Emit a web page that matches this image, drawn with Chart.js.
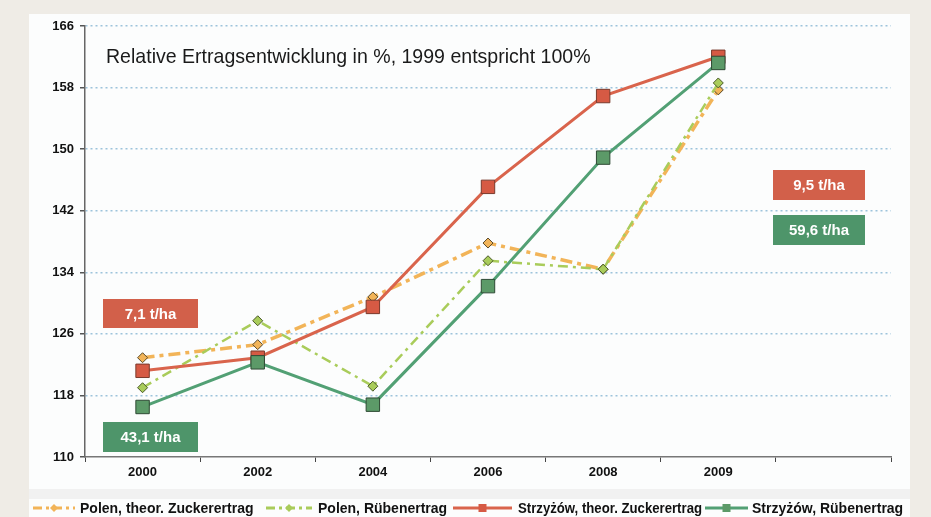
<!doctype html>
<html lang="de">
<head>
<meta charset="utf-8">
<title>Relative Ertragsentwicklung</title>
<script src="https://cdn.jsdelivr.net/npm/chart.js"></script>
<style>
  html, body { margin: 0; padding: 0; background: #efece6; }
  #wrap { width: 931px; height: 517px; position: relative; }
</style>
</head>
<body>
<div id="wrap"><canvas id="chart"></canvas></div>
<script>
const years = ['2000', '2002', '2004', '2006', '2008', '2009', '']
const polenZucker = [122.9, 124.6, 130.8, 137.8, 134.4, 157.7]
const polenRueben = [119.0, 127.7, 119.2, 135.5, 134.4, 158.6]
const strzyzowZucker = [121.2, 122.9, 129.5, 145.1, 156.9, 162.0]
const strzyzowRueben = [116.5, 122.3, 116.8, 132.2, 148.9, 161.2]

const labelsLegend = [
  'Polen, theor. Zuckerertrag',
  'Polen, Rübenertrag',
  'Strzyżów, theor. Zuckerertrag',
  'Strzyżów, Rübenertrag'
]
const boxes = [
  { text: '7,1 t/ha', color: '#d2604a', x: 103, y: 299, w: 95, h: 29 },
  { text: '43,1 t/ha', color: '#4e956a', x: 103, y: 422, w: 95, h: 30 },
  { text: '9,5 t/ha', color: '#d2604a', x: 773, y: 170, w: 92, h: 30 },
  { text: '59,6 t/ha', color: '#4e956a', x: 773, y: 215, w: 92, h: 30 }
]

const red = '#d9644c'
const green = '#52a074'
const orange = '#f2b458'
const lime = '#a9cc5a'

const background = {
  id: 'background',
  beforeDraw(chart) {
    const c = chart.ctx
    c.save()
    c.fillStyle = '#efece6'
    c.fillRect(0, 0, chart.width, chart.height)
    c.fillStyle = '#fcfdfd'
    c.fillRect(29, 14, 881, chart.height - 14)
    c.fillStyle = '#f1f1f1'
    c.fillRect(29, 489, 881, 10)
    c.restore()
  }
}

const extras = {
  id: 'extras',
  afterDraw(chart) {
    const c = chart.ctx
    c.save()
    // Untertitel
    const title = 'Relative Ertragsentwicklung in %, 1999 entspricht 100%'
    c.fillStyle = '#1a1a1a'
    c.font = '18px "Liberation Sans", Arial, sans-serif'
    const tw = c.measureText(title).width
    const size = 18 * 485 / tw
    c.font = size + 'px "Liberation Sans", Arial, sans-serif'
    c.textBaseline = 'middle'
    c.fillText(title, 106, 58)
    // Kästchen
    c.font = 'bold 15px "Liberation Sans", Arial, sans-serif'
    c.textAlign = 'center'
    boxes.forEach((b) => {
      c.fillStyle = b.color
      c.fillRect(b.x, b.y, b.w, b.h)
      c.fillStyle = '#ffffff'
      c.fillText(b.text, b.x + b.w / 2, b.y + b.h / 2 + 1)
    })
    // Legende
    const items = [
      { x: 33, x2: 75, textX: 80, maxW: 182, ds: 0 },
      { x: 266, x2: 312, textX: 318, maxW: 131, ds: 1 },
      { x: 453, x2: 512, textX: 518, maxW: 184, ds: 2 },
      { x: 705, x2: 748, textX: 752, maxW: 156, ds: 3 }
    ]
    const ly = 508
    c.textAlign = 'left'
    c.font = 'bold 14px "Liberation Sans", Arial, sans-serif'
    items.forEach((it) => {
      const ds = chart.data.datasets[it.ds]
      c.strokeStyle = ds.borderColor
      c.lineWidth = 3
      c.setLineDash(ds.borderDash ? [9, 4, 3, 4] : [])
      c.beginPath()
      c.moveTo(it.x, ly)
      c.lineTo(it.x2, ly)
      c.stroke()
      c.setLineDash([])
      const mx = (it.x + it.x2) / 2
      c.fillStyle = ds.pointBackgroundColor
      if (ds.pointStyle === 'rect') {
        c.fillRect(mx - 4, ly - 4, 8, 8)
      } else {
        c.beginPath()
        c.moveTo(mx, ly - 4)
        c.lineTo(mx + 4, ly)
        c.lineTo(mx, ly + 4)
        c.lineTo(mx - 4, ly)
        c.closePath()
        c.fill()
      }
      c.fillStyle = '#111111'
      c.fillText(labelsLegend[it.ds], it.textX, ly + 1, it.maxW)
    })
    c.restore()
  }
}

new Chart(document.getElementById('chart'), {
  type: 'line',
  data: {
    labels: years,
    datasets: [
      {
        label: labelsLegend[0],
        data: polenZucker,
        borderColor: orange,
        borderWidth: 3.5,
        borderDash: [12, 5, 4, 5],
        pointStyle: 'rectRot',
        pointRadius: 5,
        pointBackgroundColor: orange,
        pointBorderColor: '#5a4a2a',
        pointBorderWidth: 1,
        order: 3
      },
      {
        label: labelsLegend[1],
        data: polenRueben,
        borderColor: lime,
        borderWidth: 2.5,
        borderDash: [10, 5, 3, 5],
        pointStyle: 'rectRot',
        pointRadius: 5,
        pointBackgroundColor: lime,
        pointBorderColor: '#4a5a2a',
        pointBorderWidth: 1,
        order: 2
      },
      {
        label: labelsLegend[2],
        data: strzyzowZucker,
        borderColor: red,
        borderWidth: 3,
        pointStyle: 'rect',
        pointRadius: 9.5,
        pointBackgroundColor: '#d65a44',
        pointBorderColor: '#7a3a2c',
        pointBorderWidth: 1,
        order: 1
      },
      {
        label: labelsLegend[3],
        data: strzyzowRueben,
        borderColor: green,
        borderWidth: 3,
        pointStyle: 'rect',
        pointRadius: 9.5,
        pointBackgroundColor: '#5c9a68',
        pointBorderColor: '#2e4a34',
        pointBorderWidth: 1,
        order: 0
      }
    ]
  },
  options: {
    responsive: true,
    maintainAspectRatio: false,
    animation: false,
    layout: { padding: { left: 0, right: 40, top: 26, bottom: 0 } },
    plugins: {
      legend: { display: false },
      tooltip: { enabled: false }
    },
    scales: {
      x: {
        offset: true,
        grid: {
          offset: true,
          drawOnChartArea: false,
          color: '#444444',
          tickLength: 5
        },
        border: { color: '#777777', width: 1.5 },
        ticks: {
          color: '#111111',
          padding: 3,
          font: { family: '"Liberation Sans", Arial, sans-serif', size: 13, weight: 'bold' }
        },
        afterFit(scale) { scale.height = 60 }
      },
      y: {
        min: 110,
        max: 166,
        ticks: {
          stepSize: 8,
          color: '#111111',
          padding: 6,
          font: { family: '"Liberation Sans", Arial, sans-serif', size: 13, weight: 'bold' }
        },
        grid: {
          color: (ctx) => ctx.index === 0 ? 'rgba(0,0,0,0)' : '#9cc3db',
          lineWidth: 1.5,
          tickColor: '#555555',
          tickLength: 5,
          tickBorderDash: []
        },
        border: { color: '#666666', width: 1.5, dash: [2, 3] },
        afterFit(scale) { scale.width = 85 }
      }
    }
  },
  plugins: [background, extras]
})
</script>
</body>
</html>
